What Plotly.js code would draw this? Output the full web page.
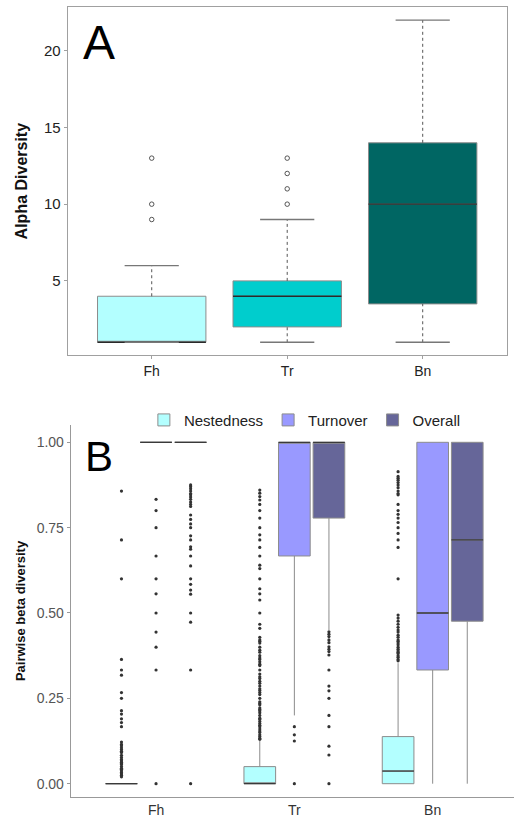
<!DOCTYPE html>
<html><head><meta charset="utf-8">
<script src="https://cdn.plot.ly/plotly-3.0.1.min.js"></script>
<style>html,body{margin:0;padding:0;background:#fff}#chart{width:514px;height:817px}</style>
</head><body><div id="chart"></div>
<script>
// ---------- Panel A: alpha diversity ----------
const sitesA = ['Fh', 'Tr', 'Bn'];
const alphaQ1 = [1, 2, 3.5];
const alphaMedian = [1, 4, 10];
const alphaQ3 = [4, 5, 14];
const alphaLower = [1, 1, 1];
const alphaUpper = [6, 9, 22];
const alphaOutliers = [[9, 10, 13], [10, 11, 12, 13], []];
const alphaColors = ['#b3ffff', '#00cdcd', '#006663'];

// ---------- Panel B: pairwise beta diversity ----------
const sitesB = ['Fh', 'Tr', 'Bn'];
const components = ['Nestedness', 'Turnover', 'Overall'];
const compColors = ['#b3ffff', '#9999ff', '#666699'];
const nestQ1 = [0, 0, 0];
const nestMedian = [0, 0, 0.037];
const nestQ3 = [0, 0.05, 0.138];
const nestLower = [0, 0, 0];
const nestUpper = [0, 0.125, 0.353];
const turnQ1 = [1, 0.667, 0.333];
const turnMedian = [1, 1, 0.5];
const turnQ3 = [1, 1, 1];
const turnLower = [1, 0.2, 0];
const turnUpper = [1, 1, 1];
const overQ1 = [1, 0.778, 0.476];
const overMedian = [1, 1, 0.714];
const overQ3 = [1, 1, 1];
const overLower = [1, 0.45, 0];
const overUpper = [1, 1, 1];

const nestOutFh = [0.857, 0.714, 0.6, 0.364, 0.333, 0.318, 0.267, 0.25, 0.214, 0.204, 0.19, 0.179, 0.167,
  0.122, 0.115, 0.111, 0.105, 0.1, 0.095, 0.091, 0.083, 0.077, 0.071, 0.067, 0.063, 0.059, 0.056, 0.05,
  0.045, 0.042, 0.038, 0.033, 0.029, 0.025, 0.02];
const nestOutTr = [0.86, 0.851, 0.841, 0.831, 0.818, 0.8, 0.778, 0.75, 0.729, 0.714, 0.692, 0.667, 0.64, 0.63,
  0.6, 0.571, 0.556, 0.538, 0.5, 0.467, 0.455, 0.429, 0.421, 0.417, 0.412, 0.4, 0.391, 0.385, 0.375, 0.368,
  0.364, 0.357, 0.35, 0.346, 0.333, 0.321, 0.313, 0.308, 0.3, 0.294, 0.286, 0.278, 0.273, 0.267, 0.261,
  0.25, 0.24, 0.235, 0.231, 0.222, 0.217, 0.214, 0.208, 0.2, 0.192, 0.188, 0.182, 0.176, 0.171, 0.167,
  0.16, 0.154, 0.15, 0.143, 0.138, 0.133, 0.13];
const nestOutBn = [0.914, 0.9, 0.895, 0.889, 0.882, 0.875, 0.867, 0.857, 0.85, 0.846, 0.818, 0.8, 0.789, 0.778,
  0.765, 0.75, 0.733, 0.714, 0.692, 0.6, 0.494, 0.485, 0.476, 0.467, 0.458, 0.45, 0.444, 0.435, 0.429,
  0.421, 0.417, 0.412, 0.407, 0.4, 0.394, 0.389, 0.385, 0.381, 0.375, 0.37, 0.364, 0.36];
const turnOutFh = [0.833, 0.8, 0.75, 0.667, 0.6, 0.556, 0.5, 0.444, 0.4, 0.333, 0];
const turnOutTr = [0.167, 0.143, 0.125, 0];
const turnOutBn = [];
const overOutFh = [0.875, 0.87, 0.864, 0.857, 0.85, 0.846, 0.84, 0.833, 0.825, 0.818, 0.812, 0.787, 0.774,
  0.761, 0.75, 0.726, 0.714, 0.694, 0.687, 0.667, 0.638, 0.6, 0.584, 0.567, 0.555, 0.5, 0.473, 0.333, 0];
const overOutTr = [0.445, 0.438, 0.431, 0.421, 0.413, 0.401, 0.394, 0.387, 0.377, 0.333, 0.286, 0.272, 0.25,
  0.2, 0.167, 0.11, 0.084, 0];
const overOutBn = [];

const FONT = 'Liberation Sans, Arial, Helvetica, sans-serif';
const traces = [];

// Panel A boxes
const boxHalfA = 0.4, capHalfA = 0.2;
sitesA.forEach((s, i) => {
  traces.push({
    type: 'box', xaxis: 'x', yaxis: 'y', name: s, showlegend: false,
    x: [i], q1: [alphaQ1[i]], median: [alphaMedian[i]], q3: [alphaQ3[i]],
    lowerfence: [alphaQ1[i]], upperfence: [alphaQ3[i]],
    width: 2 * boxHalfA, whiskerwidth: 0,
    fillcolor: alphaColors[i], line: {color: '#8c8c8c', width: 1}, hoverinfo: 'skip'
  });
});
sitesA.forEach((s, i) => {
  traces.push({type: 'scatter', mode: 'lines', xaxis: 'x', yaxis: 'y', showlegend: false, hoverinfo: 'skip',
    x: [i - boxHalfA, i + boxHalfA], y: [alphaMedian[i], alphaMedian[i]], line: {color: '#2a2a2a', width: 1.4}});
  traces.push({type: 'scatter', mode: 'lines', xaxis: 'x', yaxis: 'y', showlegend: false, hoverinfo: 'skip',
    x: [i, i, null, i, i], y: [alphaQ3[i], alphaUpper[i], null, alphaLower[i], alphaQ1[i]],
    line: {color: '#555', width: 1, dash: '3px,3px'}});
  traces.push({type: 'scatter', mode: 'lines', xaxis: 'x', yaxis: 'y', showlegend: false, hoverinfo: 'skip',
    x: [i - capHalfA, i + capHalfA, null, i - capHalfA, i + capHalfA],
    y: [alphaUpper[i], alphaUpper[i], null, alphaLower[i], alphaLower[i]],
    line: {color: '#777', width: 1.3}});
  traces.push({type: 'scatter', mode: 'markers', xaxis: 'x', yaxis: 'y', showlegend: false, hoverinfo: 'skip',
    x: alphaOutliers[i].map(() => i), y: alphaOutliers[i],
    marker: {symbol: 'circle-open', size: 4.5, color: '#555', line: {width: 1, color: '#555'}}});
});

// Panel B boxes
const statsB = [
  [nestQ1, nestMedian, nestQ3, nestLower, nestUpper],
  [turnQ1, turnMedian, turnQ3, turnLower, turnUpper],
  [overQ1, overMedian, overQ3, overLower, overUpper]
];
const outB = [
  [nestOutFh, nestOutTr, nestOutBn],
  [turnOutFh, turnOutTr, turnOutBn],
  [overOutFh, overOutTr, overOutBn]
];
const slotB = 0.25, halfB = 0.1145;
const idxB = sitesB.map((s, i) => i);
components.forEach((c, k) => {
  const st = statsB[k];
  traces.push({
    type: 'box', xaxis: 'x2', yaxis: 'y2', name: c, showlegend: true,
    offsetgroup: c, alignmentgroup: 'beta',
    x: idxB, q1: st[0], median: st[1], q3: st[2], lowerfence: st[3], upperfence: st[4],
    whiskerwidth: 0, fillcolor: compColors[k], line: {color: '#8c8c8c', width: 1}, hoverinfo: 'skip'
  });
});
components.forEach((c, k) => {
  const st = statsB[k];
  const off = (k - 1) * slotB;
  const mx = [], my = [], ox = [], oy = [];
  idxB.forEach(i => {
    mx.push(i + off - halfB, i + off + halfB, null);
    my.push(st[1][i], st[1][i], null);
    outB[k][i].forEach(v => { ox.push(i + off); oy.push(v); });
  });
  traces.push({type: 'scatter', mode: 'lines', xaxis: 'x2', yaxis: 'y2', showlegend: false, hoverinfo: 'skip',
    x: mx, y: my, line: {color: '#3a3a3a', width: 1.3}});
  traces.push({type: 'scatter', mode: 'markers', xaxis: 'x2', yaxis: 'y2', showlegend: false, hoverinfo: 'skip',
    x: ox, y: oy, marker: {size: 3.2, color: '#333'}});
});

const axisCommon = {showgrid: false, zeroline: false, showline: true, ticks: 'outside', ticklen: 3,
  automargin: false};

const layout = {
  width: 514, height: 817,
  margin: {l: 67, r: 0, t: 7, b: 20},
  paper_bgcolor: '#fff', plot_bgcolor: '#fff',
  font: {family: FONT, color: '#222'},
  boxmode: 'group', boxgap: 0.25, boxgroupgap: 0.084,
  showlegend: true,
  legend: {orientation: 'h', x: 0.172, xanchor: 'left', y: 0.477, yanchor: 'middle',
    font: {size: 15, color: '#222'}, bgcolor: 'rgba(0,0,0,0)', traceorder: 'normal'},
  xaxis: Object.assign({}, axisCommon, {
    anchor: 'y', domain: [0.0016, 0.9837], range: [-0.62, 2.62],
    tickvals: [0, 1, 2], ticktext: sitesA, mirror: true,
    linecolor: '#a0a0a0', tickcolor: '#a0a0a0', tickfont: {size: 14, color: '#222'}
  }),
  yaxis: Object.assign({}, axisCommon, {
    anchor: 'x', domain: [0.5591, 1], range: [0.15, 22.85],
    tickvals: [5, 10, 15, 20], mirror: true,
    linecolor: '#a0a0a0', tickcolor: '#a0a0a0', tickfont: {size: 15, color: '#222'},
    title: {text: '<b>Alpha Diversity</b>', font: {size: 16, color: '#111'}, standoff: 12}
  }),
  xaxis2: Object.assign({}, axisCommon, {
    anchor: 'y2', domain: [0.0083, 1], range: [-0.617, 2.588],
    tickvals: [0, 1, 2], ticktext: sitesB, ticks: '', ticklen: 0,
    linecolor: '#999', tickcolor: '#999', tickfont: {size: 14, color: '#333'}
  }),
  yaxis2: Object.assign({}, axisCommon, {
    anchor: 'x2', domain: [0, 0.4709], range: [-0.039, 1.0507],
    tickvals: [0, 0.25, 0.5, 0.75, 1], tickformat: '.2f',
    linecolor: '#999', tickcolor: '#999', tickfont: {size: 14, color: '#555'},
    title: {text: '<b>Pairwise beta diversity</b>', font: {size: 13, color: '#111'}, standoff: 8}
  }),
  annotations: [
    {text: 'A', xref: 'paper', yref: 'paper', x: 0.031, y: 0.991, xanchor: 'left', yanchor: 'top',
      showarrow: false, font: {size: 48, color: '#000', family: FONT}},
    {text: 'B', xref: 'paper', yref: 'paper', x: 0.036, y: 0.4639, xanchor: 'left', yanchor: 'top',
      showarrow: false, font: {size: 42, color: '#000', family: FONT}}
  ]
};

Plotly.newPlot('chart', traces, layout, {displayModeBar: false, staticPlot: true});
</script>
</body></html>
